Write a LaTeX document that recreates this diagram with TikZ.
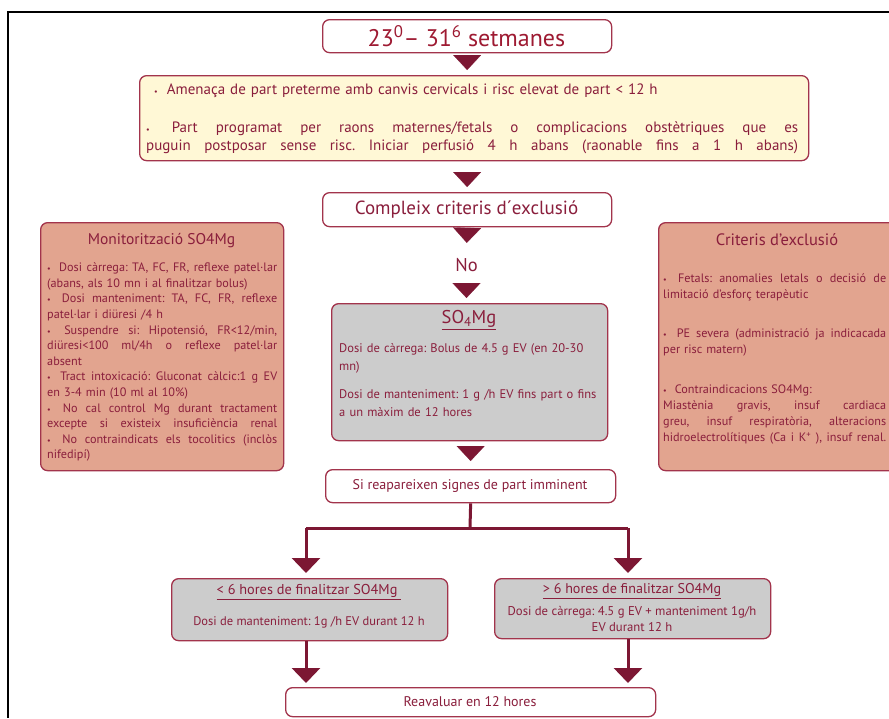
\documentclass[tikz,border=0pt]{standalone}
\usepackage{fontspec}
\setmainfont{PT Sans}
\usetikzlibrary{arrows.meta,calc}
\definecolor{mar}{HTML}{8A1E3C}
\definecolor{redt}{HTML}{9E1A32}
\definecolor{bord}{HTML}{A2344C}
\definecolor{tipc}{HTML}{7C1733}
\definecolor{yel}{HTML}{FFF8D6}
\definecolor{sal}{HTML}{E2A48F}
\definecolor{gry}{HTML}{CCCCCC}
\newlength\jw
\newcommand\jl[1]{\leavevmode\hbox to \jw{\spaceskip=\fontdimen2\font plus 1fil minus \fontdimen4\font\relax #1}}
\newcommand\bl{{\footnotesize•}\kern4pt\ }
\frenchspacing
\begin{document}
\begin{tikzpicture}[x=1pt,y=-1pt,
  box/.style={draw=bord, line width=1.3pt, rounded corners=7pt, inner sep=0pt, anchor=north west},
  txt/.style={text=mar, inner sep=0pt, anchor=north west},
  ctxt/.style={text=mar, inner sep=0pt, anchor=center, align=center},
  tri/.style={draw=tipc, fill=tipc, line width=0.2pt, -{Triangle[width=28pt,length=15pt]}},
  conn/.style={draw=tipc, line width=3pt},
  branch/.style={draw=tipc, line width=3pt, -{Triangle[width=28pt,length=15pt]}, shorten >=5pt}]
\clip (0,0) rectangle (889,718);
\fill[white] (0,0) rectangle (889,718);
% frame
\draw[line width=1.8pt] (889,12) -- (8,12) -- (8,718);

% boxes
\node[box, fill=white, minimum width=289, minimum height=33] (b1) at (322,19) {};
\node[ctxt, text=redt, font=\fontsize{24}{26}\selectfont] (b1t) at (466.5,36) {23\textsuperscript{0}– 31\textsuperscript{6} setmanes};

\node[box, fill=yel, minimum width=669, minimum height=85] (yel) at (139,75) {};
\node[txt, text width=652, font=\fontsize{15}{18.5}\selectfont\setlength\jw{652pt}] (yelt) at (146,81) {\strut\hspace*{8pt}\bl Amenaça de part preterme amb canvis cervicals i risc elevat de part < 12 h\\[19.5pt]
\jl{\bl Part programat per raons maternes/fetals o complicacions obstètriques que es}\\
\jl{puguin postposar sense risc. Iniciar perfusió 4 h abans (raonable fins a 1 h abans)}};

\node[box, fill=white, minimum width=289, minimum height=34] (cmp) at (322,192) {};
\node[ctxt, font=\fontsize{19}{21}\selectfont] (cmpt) at (466.5,209.5) {Compleix criteris d´exclusió};

\node[ctxt, font=\fontsize{18.5}{20}\selectfont, minimum height=24pt] (no) at (466.5,265) {No};

\node[box, fill=gry, minimum width=276, minimum height=137] (so4) at (331,303) {};
\node[ctxt, font=\fontsize{18.5}{20}\selectfont] (so4h) at (469,320) {\underline{SO\textsubscript{4}Mg}};
\node[txt, text width=268, font=\fontsize{12.5}{18}\selectfont] (so4t) at (339,339.5) {\strut Dosi de càrrega: Bolus de 4.5 g EV (en 20-30\\
mn)\\[10pt]
Dosi de manteniment: 1 g /h EV fins part o fins\\
a un màxim de 12 hores};

\node[box, fill=sal, minimum width=243, minimum height=248] (mon) at (40,222) {};
\node[ctxt, font=\fontsize{15.5}{18}\selectfont] (monh) at (161.5,241) {Monitorització SO4Mg};
\node[txt, text width=230, font=\fontsize{12.2}{15.6}\selectfont\setlength\jw{230pt}] (mont) at (47,260.6) {\strut\jl{\bl Dosi càrrega: TA, FC, FR, reflexe patel·lar}\\
(abans, als 10 mn i al finalitzar bolus)\\
\jl{\bl Dosi manteniment: TA, FC, FR, reflexe}\\
patel·lar i diüresi /4 h\\
\jl{\bl Suspendre si: Hipotensió, FR<12/min,}\\
\jl{diüresi<100 ml/4h o reflexe patel·lar}\\
absent\\
\jl{\bl Tract intoxicació: Gluconat càlcic:1 g EV}\\
en 3-4 min (10 ml al 10\%)\\
\jl{\bl No cal control Mg durant tractament}\\
\jl{excepte si existeix insuficiència renal}\\
\jl{\bl No contraindicats els tocolitics (inclòs}\\
nifedipí)};

\node[box, fill=sal, minimum width=245, minimum height=248] (crit) at (658,222) {};
\node[ctxt, font=\fontsize{16.5}{19}\selectfont] (crith) at (777,240) {Criteris d’exclusió};
\node[txt, text width=223, font=\fontsize{12.2}{16}\selectfont\setlength\jw{223pt}] (critt) at (663,271.4) {\strut\jl{\bl Fetals: anomalies letals o decisió de}\\
limitació d’esforç terapèutic\\[23pt]
\jl{\bl PE severa (administració ja indicacada}\\
per risc matern)\\[24pt]
\bl Contraindicacions SO4Mg:\\
\jl{Miastènia gravis, insuf cardiaca}\\
\jl{greu, insuf respiratòria, alteracions}\\
\jl{hidroelectrolítiques (Ca i K\textsuperscript{+} ), insuf renal.}};

\node[box, fill=white, minimum width=290, minimum height=33] (si) at (325,469) {};
\node[ctxt, font=\fontsize{14}{16}\selectfont] (sit) at (470,486) {Si reapareixen signes de part imminent};

\node[box, fill=gry, minimum width=276, minimum height=62] (lb) at (171,578) {};
\node[ctxt, font=\fontsize{14.3}{16}\selectfont] (lbh) at (309,592) {\underline{< 6 hores de finalitzar SO4Mg\ }};
\node[ctxt, font=\fontsize{12.5}{15}\selectfont] (lbt) at (309,622) {Dosi de manteniment: 1g /h EV durant 12 h};

\node[box, fill=gry, minimum width=276, minimum height=60] (rb) at (494,578) {};
\node[ctxt, font=\fontsize{14.1}{16}\selectfont] (rbh) at (632,591) {\underline{> 6 hores de finalitzar SO4Mg}};
\node[ctxt, font=\fontsize{12.7}{16}\selectfont] (rbt) at (632,619) {Dosi de càrrega: 4.5 g EV + manteniment 1g/h\\EV durant 12 h};

\node[box, fill=white, minimum width=370, minimum height=29] (rv) at (285,687) {};
\node[ctxt, font=\fontsize{14}{16}\selectfont] (rvt) at (470,702) {Reavaluar en 12 hores};

% triangles in the main chain
\draw[tri, shorten <=3pt, shorten >=5pt] (b1.south) -- (b1.south |- yel.north);
\draw[tri, shorten <=12pt, shorten >=5pt] (cmp.north |- yel.south) -- (cmp.north);
\draw[tri, shorten <=2pt, shorten >=10pt] (cmp.south) -- (no.north);
\draw[tri, shorten <=6pt, shorten >=5pt] (no.south) -- (no.south |- so4.north);
\draw[tri, shorten <=6pt, shorten >=8pt] (si.north |- so4.south) -- (si.north);

% branches
\coordinate (jn) at (470,528);
\coordinate (jl) at (306,528);
\coordinate (jr) at (628,528);
\draw[conn] (si.south) -- (jn);
\draw[conn] (jl) -- (jr);
\draw[branch] (jl) -- (jl |- lb.north);
\draw[branch] (jr) -- (jr |- rb.north);
\draw[branch, shorten >=4pt] (jl |- lb.south) -- (jl |- rv.north);
\draw[branch, shorten >=4pt] (jr |- rb.south) -- (jr |- rv.north);
\end{tikzpicture}
\end{document}
